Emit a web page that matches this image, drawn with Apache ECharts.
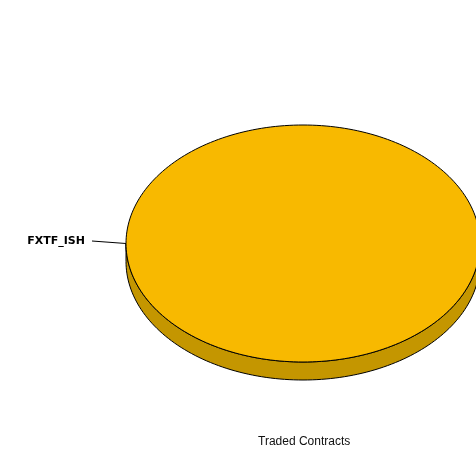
<!DOCTYPE html>
<html>
<head>
<meta charset="utf-8">
<script src="https://cdn.jsdelivr.net/npm/echarts@6/dist/echarts.min.js"></script>
<style>html,body{margin:0;padding:0;background:#fff;}#c{width:476px;height:450px;}</style>
</head>
<body>
<div id="c"></div>
<script>
var categories = ['FXTF_ISH'];
var values = [100];
var colors = ['#F8B900'];
var sideColors = ['#C49600'];
var titleText = 'Traded Contracts';

var chart = echarts.init(document.getElementById('c'), null, {renderer: 'canvas'});
var total = values.reduce(function (a, b) { return a + b; }, 0);
var CX = 303, CY = 243.5, RX = 177, RY = 118.5, DEPTH = 18;

function pt(a, dy) { return [CX + RX * Math.cos(a), CY + RY * Math.sin(a) + (dy || 0)]; }

function renderItem(params, api) {
  var idx = params.dataIndex;
  var before = 0;
  for (var i = 0; i < idx; i++) before += values[i];
  var v = api.value(1);
  var a0 = Math.PI - Math.PI * 2 * before / total;
  var a1 = a0 - Math.PI * 2 * v / total;
  var full = Math.abs(a1 - a0) >= Math.PI * 2 - 1e-9;
  var children = [];
  var s0 = Math.max(Math.min(a0, a1), 0), s1 = Math.min(Math.max(a0, a1), Math.PI);
  if (full) { s0 = 0; s1 = Math.PI; }
  if (s1 > s0) {
    var side = [];
    var n = 120;
    for (var k = 0; k <= n; k++) side.push(pt(s0 + (s1 - s0) * k / n, 0));
    for (var k2 = n; k2 >= 0; k2--) side.push(pt(s0 + (s1 - s0) * k2 / n, DEPTH));
    children.push({type: 'polygon', shape: {points: side}, style: {fill: sideColors[idx], stroke: '#000', lineWidth: 1}});
  }
  var top = [];
  var m = 240;
  if (!full) top.push([CX, CY]);
  for (var j = 0; j <= m; j++) top.push(pt(a0 + (a1 - a0) * j / m, 0));
  children.push({type: 'polygon', shape: {points: top}, style: {fill: colors[idx], stroke: '#000', lineWidth: 1}});
  var mid = full ? Math.PI : (a0 + a1) / 2;
  var p = pt(mid, 0);
  var lx = p[0] - 34, ly = p[1] - 2.5;
  children.push({type: 'polyline', shape: {points: [[lx, ly], p]}, style: {stroke: '#000', lineWidth: 1, fill: null}});
  children.push({type: 'text', x: lx - 7, y: ly, style: {text: categories[idx], font: 'bold 11px "DejaVu Sans", Verdana, sans-serif', fill: '#000', align: 'right', verticalAlign: 'middle'}});
  return {type: 'group', children: children};
}

chart.setOption({
  animation: false,
  title: {text: titleText, left: 258, top: 436, padding: 0, textStyle: {fontFamily: '"Liberation Sans", Arial, sans-serif', fontSize: 12, fontWeight: 'normal', color: '#111'}},
  series: [{
    type: 'custom',
    coordinateSystem: 'none',
    renderItem: renderItem,
    data: categories.map(function (c, i) { return [i, values[i]]; })
  }]
});
</script>
</body>
</html>
